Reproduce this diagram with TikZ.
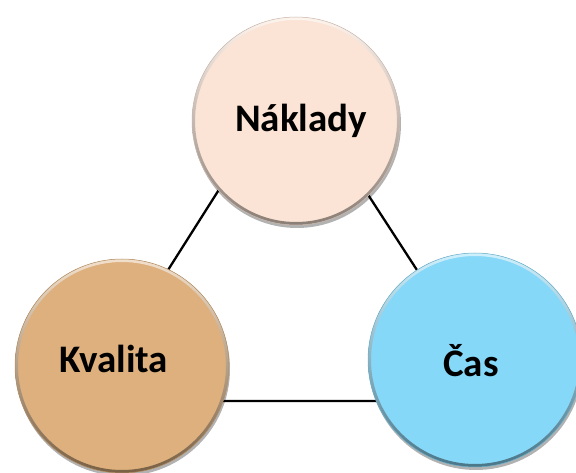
\documentclass[tikz,border=0pt]{standalone}
\usepackage{fontspec}
\setmainfont{Carlito}
\usetikzlibrary{shadows,backgrounds}

\definecolor{peach}{HTML}{FBE4D5}
\definecolor{tan}{HTML}{DDB07E}
\definecolor{sky}{HTML}{86D8F8}

\tikzset{
  ball/.style 2 args={
    circle, inner sep=0pt, minimum size=#2, fill=#1,
    draw=#1!80!black, line width=0.5pt,
    drop shadow={shadow xshift=1pt, shadow yshift=-3pt, opacity=0.3, fill=black},
    path picture={
      \path[even odd rule, top color=white!60!#1, middle color=#1, bottom color=#1!55!black]
        (path picture bounding box.center) circle (#2/2)
        (path picture bounding box.center) circle (#2/2-3pt);
    }
  },
  label text/.style={font=\fontsize{39}{44}\selectfont\bfseries},
  edge line/.style={line width=2.3pt, black}
}

\begin{document}
\begin{tikzpicture}[x=1pt, y=-1pt]
  \useasboundingbox (0,0) rectangle (576,473);

  % the three quantities
  \node[ball={peach}{208pt}] (naklady) at (296,121) {};
  \node[ball={tan}{214pt}]   (kvalita) at (122,366) {};
  \node[ball={sky}{214pt}]   (cas)     at (475,360) {};

  \node[label text] (tnaklady) at (301,121) {Náklady};
  \node[label text] (tkvalita) at (114,359) {Kvalita};
  \node[label text] (tcas)     at (471,361) {Čas};

  % corners of the triangle behind the circles
  \coordinate (apex)  at (291,76);
  \coordinate (left)  at (85,401);
  \coordinate (right) at (502,401);

  \begin{scope}[on background layer]
    \draw[edge line] (apex) -- (left) -- (right) -- cycle;
  \end{scope}
\end{tikzpicture}
\end{document}
